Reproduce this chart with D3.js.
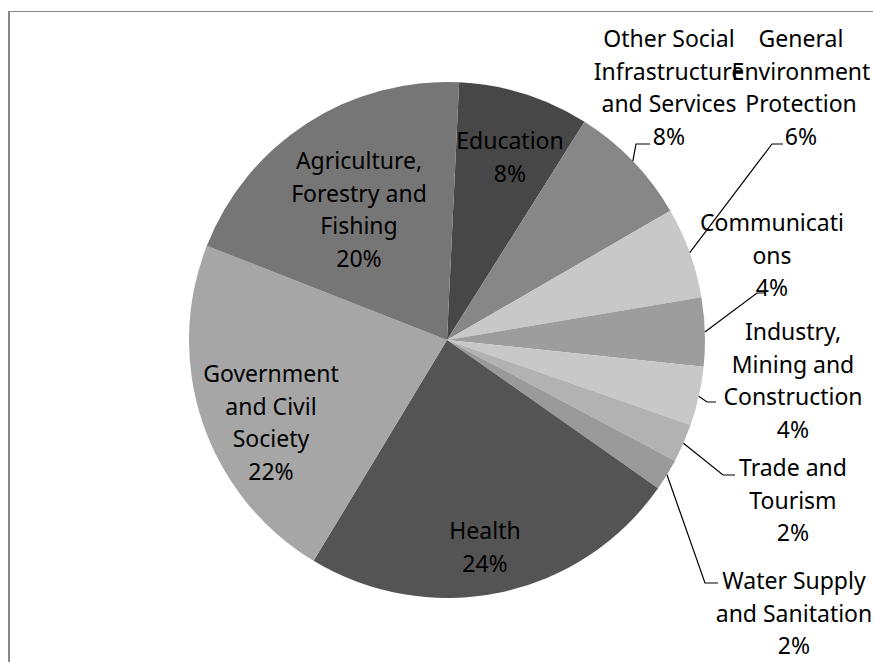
<!DOCTYPE html>
<html>
<head>
<meta charset="utf-8">
<script src="https://cdn.jsdelivr.net/npm/d3@7"></script>
<style>
  body { margin: 0; background: #fff; }
  svg text { font-family: "Noto Sans", sans-serif; font-size: 23px; fill: #000; }
</style>
</head>
<body>
<script>
// sectors, in the order they are drawn (clockwise from the top)
const categories = [
    "Education",
    "Other Social Infrastructure and Services",
    "General Environment Protection",
    "Communications",
    "Industry, Mining and Construction",
    "Trade and Tourism",
    "Water Supply and Sanitation",
    "Health",
    "Government and Civil Society",
    "Agriculture, Forestry and Fishing"
];
const shares = [8.2, 7.7, 5.7, 4.3, 3.7, 2.4, 2.0, 23.9, 22.3, 19.8];
const pctLabels = ["8%", "8%", "6%", "4%", "4%", "2%", "2%", "24%", "22%", "20%"];
// label text as it wraps on the chart
const labelLines = [
    ["Education"],
    ["Other Social", "Infrastructure", "and Services"],
    ["General", "Environment", "Protection"],
    ["Communicati", "ons"],
    ["Industry,", "Mining and", "Construction"],
    ["Trade and", "Tourism"],
    ["Water Supply", "and Sanitation"],
    ["Health"],
    ["Government", "and Civil", "Society"],
    ["Agriculture,", "Forestry and", "Fishing"]
];

const fills = ["#474747", "#878787", "#c8c8c8", "#9d9d9d", "#c8c8c8",
               "#b2b2b2", "#9a9a9a", "#545454", "#a6a6a6", "#767676"];

// label placement: [x, y of first line], and leader line [elbow, end] for outside labels
const labelPos = [
    [510, 140], [669, 38], [801, 38], [772, 222], [793, 331],
    [793, 467], [794, 580], [485, 530], [271, 373], [359, 160]
];
const leaders = [
    null, [[636, 144], [650, 144]], [[772, 144], [783, 144]], [[757, 293], [765, 293]],
    [[707, 402], [716, 402]], [[723, 475], [735, 475]], [[705, 583], [718, 583]],
    null, null, null
];

const width = 873, height = 662;
const cx = 447, cy = 340, radius = 258;
const lineH = 32.5;
const startOffset = 2.7 * Math.PI / 180;

const svg = d3.select("body").append("svg")
    .attr("width", width).attr("height", height);

// chart area frame
svg.append("line").attr("x1", 8).attr("y1", 11.5).attr("x2", width).attr("y2", 11.5)
    .attr("stroke", "#888").attr("stroke-width", 1);
svg.append("line").attr("x1", 9).attr("y1", 11).attr("x2", 9).attr("y2", height)
    .attr("stroke", "#888").attr("stroke-width", 2);

const pie = d3.pie().sort(null).value(d => d)
    .startAngle(startOffset).endAngle(startOffset + 2 * Math.PI);
const arcs = pie(shares);
const arc = d3.arc().innerRadius(0).outerRadius(radius);

const g = svg.append("g").attr("transform", `translate(${cx},${cy})`);
g.selectAll("path")
    .data(arcs)
    .enter()
    .append("path")
    .attr("d", arc)
    .attr("fill", (d, i) => fills[i]);

// leader lines from the rim (at the slice's middle angle) to the label
arcs.forEach((d, i) => {
    if (!leaders[i]) return;
    const mid = (d.startAngle + d.endAngle) / 2;
    const start = [cx + radius * Math.sin(mid), cy - radius * Math.cos(mid)];
    svg.append("polyline")
        .attr("points", [start, leaders[i][0], leaders[i][1]].map(p => p.join(",")).join(" "))
        .attr("fill", "none")
        .attr("stroke", "#000")
        .attr("stroke-width", 1.2);
});

// labels
categories.forEach((c, i) => {
    const lines = labelLines[i].concat([pctLabels[i]]);
    const t = svg.append("text")
        .attr("text-anchor", "middle");
    lines.forEach((l, j) => {
        t.append("tspan")
            .attr("x", labelPos[i][0])
            .attr("y", labelPos[i][1] + j * lineH)
            .attr("dominant-baseline", "central")
            .text(l);
    });
});
</script>
</body>
</html>
